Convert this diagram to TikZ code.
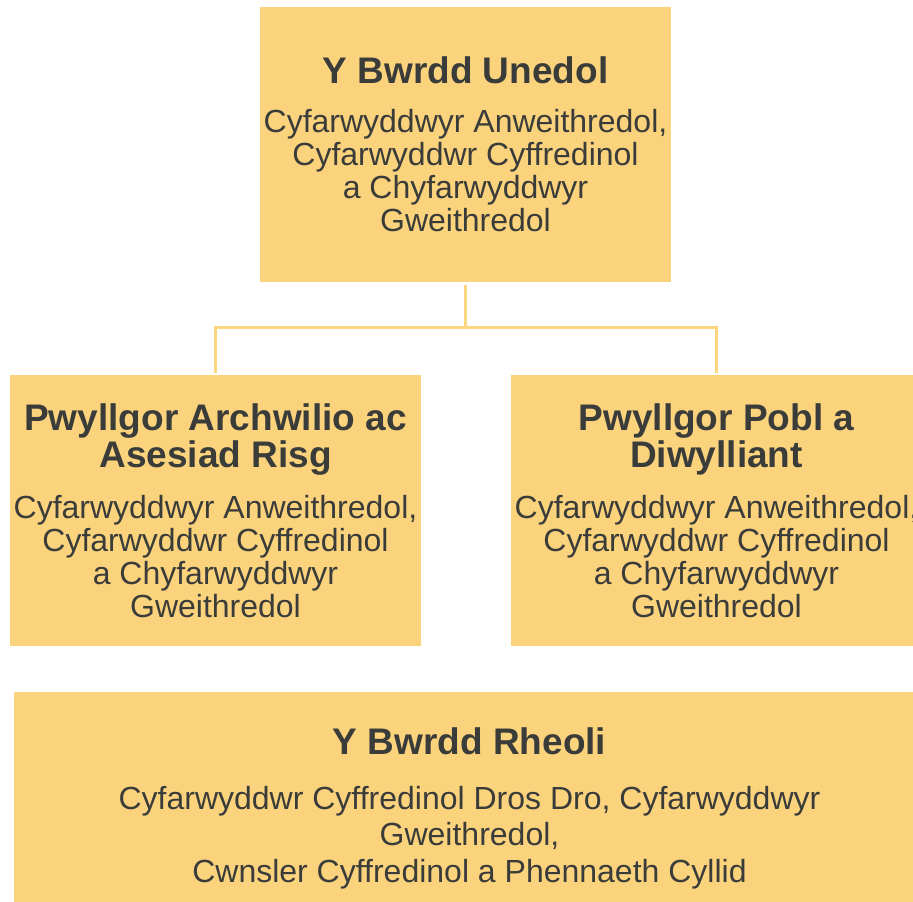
\documentclass[tikz,border=0pt]{standalone}
\usepackage{fontspec}
\setmainfont{Liberation Sans}
\usetikzlibrary{positioning}
\definecolor{boxFill}{RGB}{252,211,125}
\definecolor{lineCol}{RGB}{253,214,128}
\definecolor{txtCol}{RGB}{58,60,58}
\newcommand{\bwrddTitle}[1]{{\fontsize{37}{37}\selectfont\bfseries #1}}
\begin{document}
\begin{tikzpicture}[x=1pt,y=-1pt,
    orgBox/.style={fill=boxFill, inner sep=0pt, align=center, text=txtCol,
        font=\fontsize{32}{33}\selectfont, minimum width=411pt, minimum height=271pt},
    orgLine/.style={draw=lineCol, line width=3pt}]
    \useasboundingbox (0,0) rectangle (913,902);

    % y Bwrdd ar y brig
    \node[orgBox, minimum height=275pt] (Bunedol) at (465.5,144.5)
        {\bwrddTitle{Y Bwrdd Unedol}\\[16pt]
         Cyfarwyddwyr Anweithredol,\\ Cyfarwyddwr Cyffredinol\\
         a Chyfarwyddwyr\\ Gweithredol};

    % y ddau bwyllgor
    \node[orgBox] (Parchwilio) at (215.5,510.5)
        {\bwrddTitle{Pwyllgor Archwilio ac}\\[1pt] \bwrddTitle{Asesiad Risg}\\[18pt]
         Cyfarwyddwyr Anweithredol,\\ Cyfarwyddwr Cyffredinol\\
         a Chyfarwyddwyr\\ Gweithredol};
    \node[orgBox] (Ppobl) at (716.5,510.5)
        {\bwrddTitle{Pwyllgor Pobl a}\\[1pt] \bwrddTitle{Diwylliant}\\[18pt]
         Cyfarwyddwyr Anweithredol,\\ Cyfarwyddwr Cyffredinol\\
         a Chyfarwyddwyr\\ Gweithredol};

    % y Bwrdd Rheoli (ar wahan)
    \node[orgBox, minimum width=911pt, minimum height=233pt,
          font=\fontsize{32}{36.5}\selectfont] (Brheoli) at (469.5,808.5)
        {\bwrddTitle{Y Bwrdd Rheoli}\\[18pt]
         Cyfarwyddwr Cyffredinol Dros Dro, Cyfarwyddwyr\\ Gweithredol,\\
         Cwnsler Cyffredinol a Phennaeth Cyllid};

    % llinellau
    \draw[orgLine] ([yshift=-3pt]Bunedol.south) -- ++(0,42) coordinate (fork);
    \foreach \p in {Parchwilio, Ppobl}
        \draw[orgLine] (fork) -| ([yshift=2pt]\p.north);
\end{tikzpicture}
\end{document}
